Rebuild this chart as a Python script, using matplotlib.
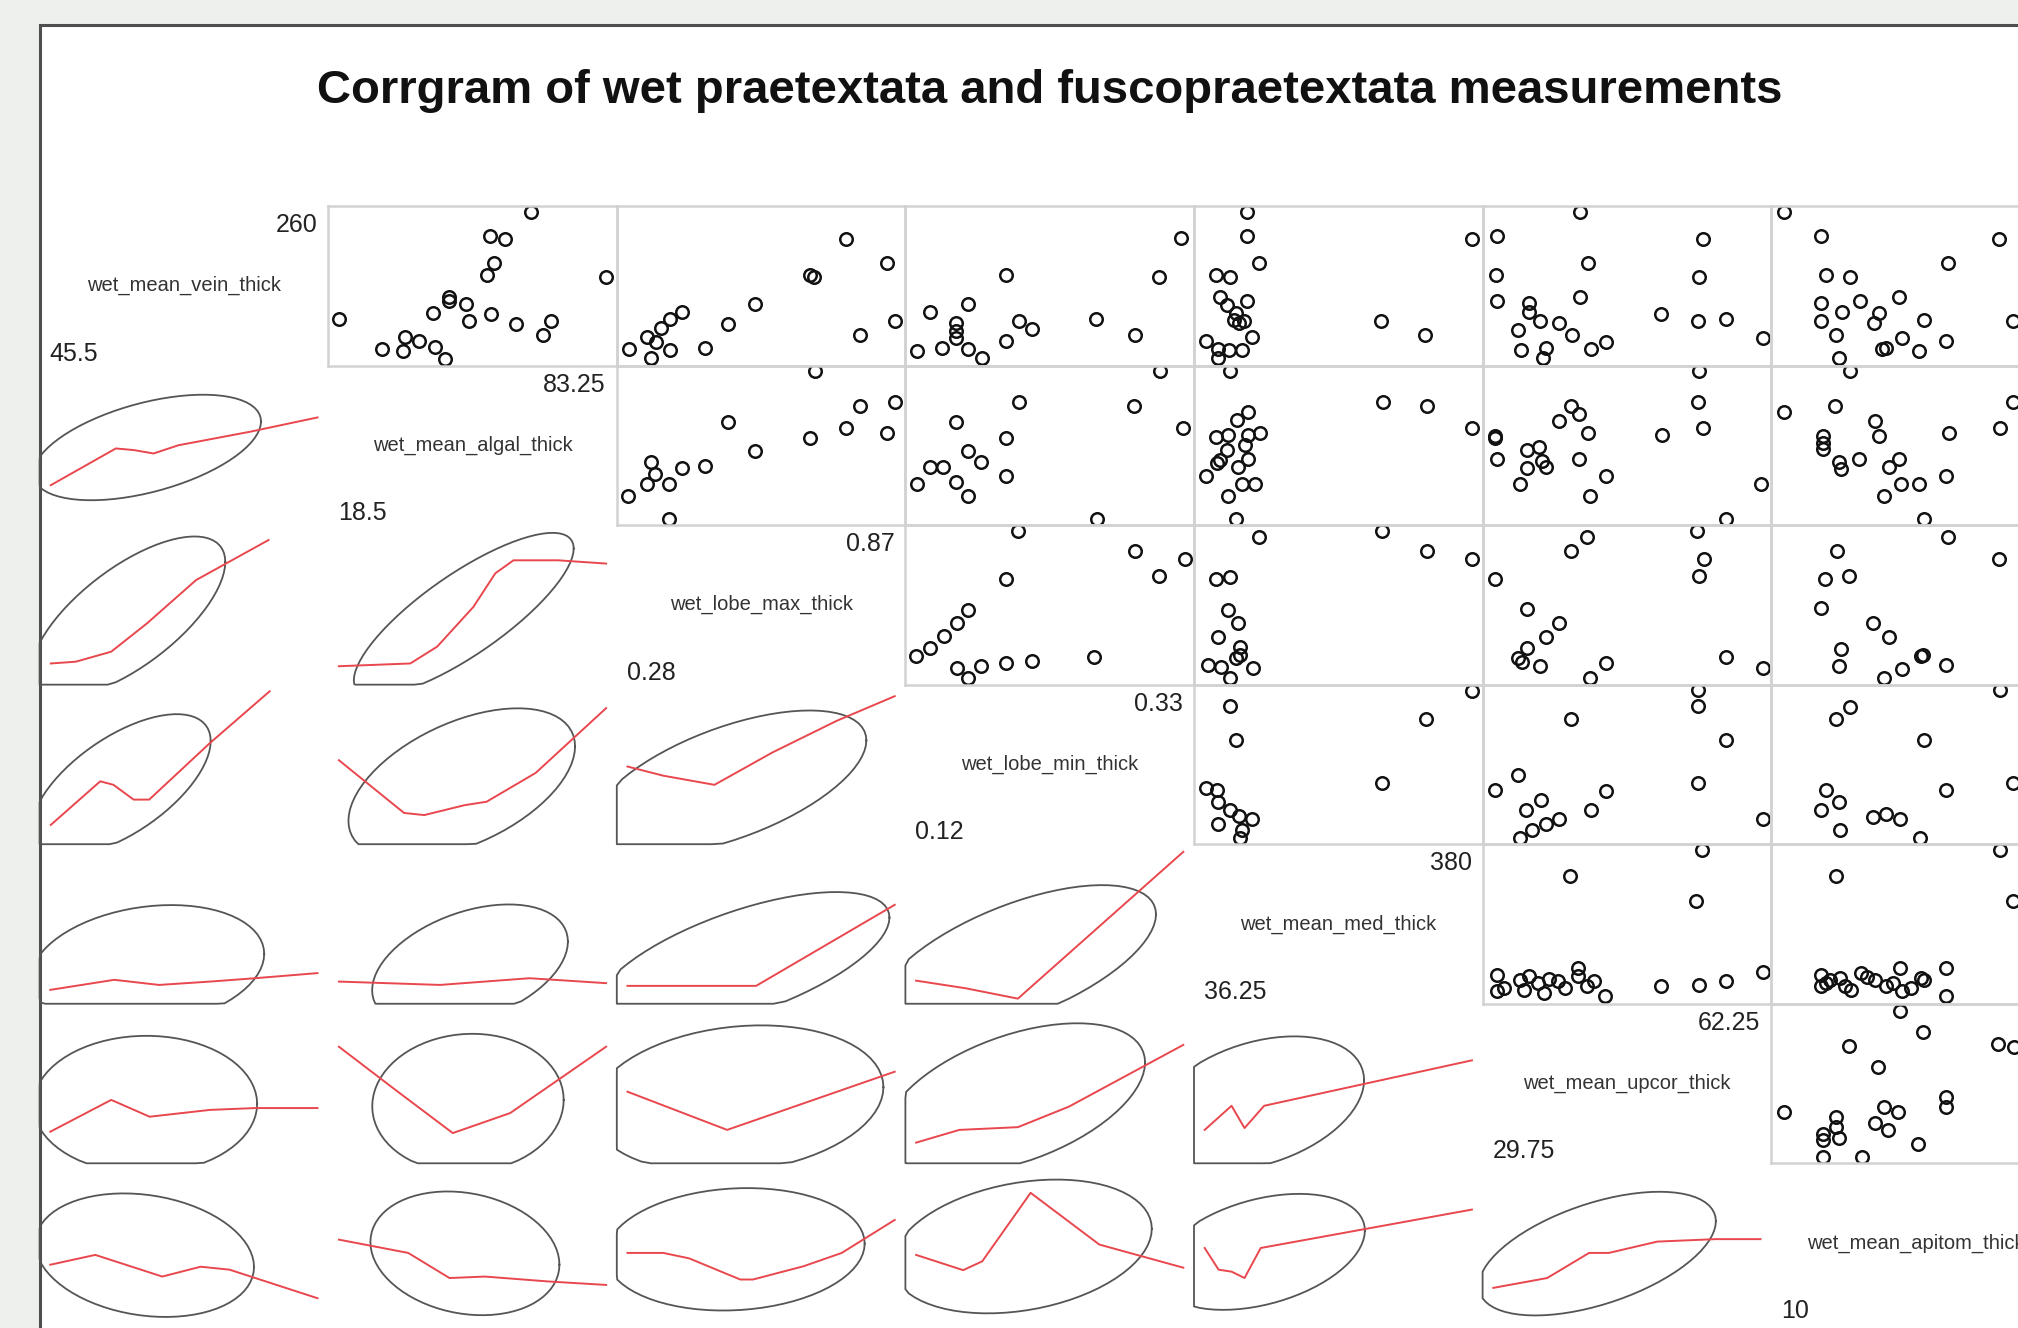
import numpy as np
import matplotlib
matplotlib.use("Agg")
import matplotlib.pyplot as plt
from matplotlib.patches import Rectangle

# ---------------- variables ----------------
var_names = ["wet_mean_vein_thick", "wet_mean_algal_thick", "wet_lobe_max_thick",
             "wet_lobe_min_thick", "wet_mean_med_thick", "wet_mean_upcor_thick",
             "wet_mean_apitom_thick"]
var_min = [45.5, 18.5, 0.28, 0.12, 36.25, 29.75, 10]
var_max = [260, 83.25, 0.87, 0.33, 380, 62.25, 40]
title = "Corrgram of wet praetextata and fuscopraetextata measurements"

# ---------------- upper panels: scatter (x = column variable, y = row variable) ----------------
up12_x = [65.1, 55.1, 58.7, 56.2, 54.5, 83.2, 45.2, 45.2, 49.2, 41.4, 55.3, 50.1, 61.4, 70.0, 68.0, 18.6, 34.5, 37.9, 28.9, 34.1, 41.8, 44.1]
up12_y = [260, 225.5, 220.7, 186.3, 168.3, 166, 137, 130.5, 125.7, 113.6, 111.7, 101.5, 97.2, 102, 81.2, 104.5, 78.8, 72.6, 60.8, 58.4, 63.3, 46.4]
up13_x = [0.762, 0.854, 0.684, 0.692, 0.561, 0.401, 0.374, 0.355, 0.323, 0.343, 0.283, 0.332, 0.373, 0.452, 0.501, 0.793, 0.870]
up13_y = [220.7, 185.4, 168.3, 166, 125.7, 114, 104.5, 90.9, 78.8, 71.5, 60.8, 47.3, 59.4, 62.8, 96.7, 81.2, 101.5]
up14_x = [0.191, 0.311, 0.328, 0.161, 0.131, 0.151, 0.151, 0.151, 0.161, 0.172, 0.140, 0.121, 0.191, 0.201, 0.211, 0.261, 0.292]
up14_y = [168.3, 166, 221.6, 125.7, 114, 98.3, 87.0, 77.4, 60.8, 47.3, 62.8, 58.4, 72.6, 101.5, 89.9, 104.5, 81.2]
up15_x = [90.8, 90.8, 105.7, 51.4, 68.5, 56.3, 65.2, 90.8, 76.9, 73.4, 87.1, 80.2, 97.5, 37.7, 53.0, 67.8, 83.8, 53.0, 262.7, 319.9, 379.6]
up15_y = [260, 225.5, 185.4, 168.3, 165, 137, 124.7, 130.5, 112.7, 102.9, 101.5, 98, 78.8, 72.6, 60.8, 59.4, 59.4, 47.3, 101.5, 81.2, 220.7]
up16_x = [40.3, 30.2, 55.3, 41.3, 30.1, 54.8, 30.2, 40.3, 34.1, 34.1, 35.4, 37.8, 32.8, 39.3, 33.1, 36.1, 35.8, 41.6, 43.5, 50.2, 54.6, 58.0, 62.6]
up16_y = [260, 225.5, 220.7, 185.4, 168.3, 165, 130.5, 137, 127.3, 115.2, 101.5, 98, 88.4, 81.2, 59.4, 61.9, 47.3, 60.8, 71.5, 111.3, 101.5, 104.5, 77.4]
up17_x = [10.2, 14.4, 34.4, 28.7, 15.0, 17.6, 14.4, 14.4, 18.8, 23.1, 16.7, 20.9, 20.3, 26.0, 16.1, 23.5, 21.7, 21.2, 25.4, 28.4, 16.4, 35.9, 40.0, 37.5]
up17_y = [260, 225.5, 220.7, 185.4, 168.3, 165, 127.3, 101.5, 130.5, 137, 114, 112.7, 98, 102.9, 81.2, 77.4, 62.8, 60.8, 58, 72.6, 47.3, 101.5, 110, 90]

up23_x = [0.694, 0.87, 0.794, 0.502, 0.762, 0.852, 0.682, 0.562, 0.452, 0.401, 0.331, 0.341, 0.322, 0.372, 0.281, 0.372]
up23_y = [83.25, 69.9, 68.2, 61.2, 58.5, 56.1, 54.2, 48.5, 41.9, 41.0, 43.7, 38.1, 34.1, 33.9, 28.8, 18.8]
up24_x = [0.312, 0.201, 0.291, 0.330, 0.151, 0.191, 0.161, 0.171, 0.131, 0.141, 0.121, 0.151, 0.161, 0.191, 0.262]
up24_y = [83.25, 69.9, 68.2, 58.5, 61.2, 54.2, 48.5, 43.7, 41.5, 41.5, 33.9, 34.6, 28.8, 37.5, 18.8]
up25_x = [68.9, 91.9, 77.4, 91.9, 66.7, 50.7, 107.9, 88.2, 65.2, 55.9, 52.2, 91.9, 79.7, 37.7, 84.5, 100.5, 66.7, 76.0, 265.3, 321.7, 380]
up25_y = [83.25, 65.3, 61.9, 55.6, 55.3, 54.6, 56.1, 51.0, 48.8, 44.4, 43.0, 45.1, 41.5, 37.5, 34.1, 34.1, 28.8, 18.8, 69.9, 68.2, 58.5]
up26_x = [54.8, 54.6, 55.3, 50.3, 39.2, 40.2, 37.8, 41.3, 30.0, 30.0, 30.2, 33.9, 35.3, 33.9, 35.7, 36.1, 33.0, 40.2, 43.5, 41.5, 62.25, 58.1]
up26_y = [83.25, 69.9, 58.5, 55.3, 68.2, 64.8, 61.5, 56.1, 55.0, 54.2, 44.8, 48.8, 50.2, 41.0, 43.9, 41.5, 34.1, 44.8, 37.5, 28.8, 34.1, 18.8]
up27_x = [17.6, 10.2, 16.0, 20.4, 20.9, 14.6, 14.6, 14.6, 16.4, 16.6, 18.7, 22.0, 23.1, 23.4, 25.4, 21.5, 28.4, 28.8, 34.5, 35.9, 26.0, 40.0, 37.5]
up27_y = [83.25, 65.3, 68.2, 61.5, 55.0, 55.0, 49.2, 52.1, 43.7, 40.7, 44.8, 41.5, 44.8, 34.1, 34.1, 28.8, 37.5, 56.1, 58.5, 69.9, 18.8, 45.0, 40.0]

up34_x = [0.200, 0.292, 0.331, 0.311, 0.191, 0.161, 0.152, 0.142, 0.131, 0.120, 0.152, 0.171, 0.191, 0.211, 0.161, 0.260]
up34_y = [0.87, 0.789, 0.760, 0.691, 0.680, 0.554, 0.501, 0.452, 0.401, 0.372, 0.321, 0.332, 0.341, 0.352, 0.281, 0.368]
up35_x = [106.1, 264.6, 321.7, 380, 51.1, 69.3, 65.6, 78.6, 53.7, 81.2, 81.2, 76.7, 40.0, 56.7, 97.9, 69.3]
up35_y = [0.847, 0.87, 0.789, 0.757, 0.680, 0.687, 0.554, 0.501, 0.448, 0.408, 0.374, 0.361, 0.334, 0.328, 0.321, 0.281]
up36_x = [41.2, 39.2, 54.5, 55.4, 54.8, 29.9, 33.9, 37.8, 36.1, 33.9, 32.8, 33.3, 35.4, 43.5, 41.5, 58.0, 62.6]
up36_y = [0.847, 0.789, 0.87, 0.760, 0.691, 0.678, 0.558, 0.501, 0.448, 0.401, 0.361, 0.348, 0.332, 0.341, 0.281, 0.368, 0.321]
up37_x = [28.7, 16.2, 14.8, 17.5, 34.4, 14.4, 20.2, 22.0, 16.6, 16.4, 25.6, 25.8, 23.5, 21.5, 28.4, 40.0, 37.5]
up37_y = [0.847, 0.789, 0.680, 0.691, 0.757, 0.561, 0.501, 0.448, 0.398, 0.332, 0.372, 0.374, 0.318, 0.281, 0.334, 0.62, 0.50]

up45_x = [380, 321.4, 264.6, 68.5, 76.3, 38.5, 52.2, 53.7, 68.5, 80.0, 83.8, 97.1, 53.7, 82.3]
up45_y = [0.330, 0.289, 0.199, 0.308, 0.260, 0.191, 0.189, 0.172, 0.160, 0.152, 0.132, 0.148, 0.140, 0.120]
up46_x = [32.8, 30.0, 35.5, 33.7, 36.1, 37.8, 34.5, 33.0, 39.2, 43.5, 41.6, 54.6, 54.6, 58.0, 54.6, 62.5]
up46_y = [0.210, 0.188, 0.174, 0.160, 0.141, 0.148, 0.132, 0.121, 0.289, 0.187, 0.160, 0.331, 0.308, 0.260, 0.199, 0.148]
up47_x = [16.1, 17.6, 26.0, 15.0, 16.4, 14.4, 16.5, 20.2, 21.7, 23.3, 25.5, 28.4, 34.5, 35.9, 40.0, 37.5]
up47_y = [0.290, 0.307, 0.260, 0.189, 0.172, 0.160, 0.132, 0.150, 0.155, 0.148, 0.121, 0.188, 0.331, 0.199, 0.25, 0.20]

up56_x = [55.1, 39.1, 54.4, 30.2, 30.2, 33.0, 34.1, 35.2, 35.9, 37.6, 40.1, 40.1, 41.2, 43.3, 50.1, 54.8, 58.0, 62.5, 31.0, 33.5, 36.5, 38.5, 42.0]
up56_y = [380, 318.8, 260.8, 90, 51.1, 78.2, 86, 70.7, 47.4, 74.5, 86, 105.6, 62.9, 39.6, 62.9, 66.7, 74.5, 95.3, 60, 55, 80, 60, 75]
up57_x = [16.1, 34.5, 35.9, 28.4, 28.4, 14.4, 14.4, 15.4, 16.5, 17.1, 18.9, 20.4, 21.7, 23.3, 23.5, 25.6, 25.9, 15.0, 17.8, 19.5, 22.5, 24.5, 40.0, 37.5]
up57_y = [318.8, 380, 260.8, 105.6, 39.6, 90, 62.9, 78.2, 82.3, 62.9, 93.8, 78.2, 62.9, 105.6, 51.1, 82.3, 78.2, 70, 55, 85, 70, 60, 150, 90]

up67_x = [23.3, 25.8, 17.5, 20.8, 34.3, 36.1, 10.2, 16.1, 16.1, 21.5, 23.0, 20.4, 21.9, 28.4, 28.4, 14.6, 14.6, 16.4, 14.6, 19.0, 25.3, 40.0, 37.5]
up67_y = [62.0, 57.4, 54.3, 49.7, 54.8, 54.1, 39.8, 38.7, 36.5, 40.9, 39.8, 37.3, 35.8, 43.1, 40.9, 35.0, 33.6, 34.0, 29.9, 29.9, 32.7, 50.0, 45.0]

# ---------------- lower panels: smoothed (lowess) red lines ----------------
lo21_x = [45.9, 98.1, 112.4, 128.4, 148.3, 205.6, 260]
lo21_y = [33.4, 49.5, 48.8, 47.3, 50.9, 56.8, 63.1]
lo31_x = [45.9, 65.9, 94.4, 123.1, 162.5, 220.7]
lo31_y = [0.341, 0.348, 0.388, 0.501, 0.674, 0.834]
lo41_x = [45.9, 85.6, 96.2, 112.4, 124.9, 173.4, 221.6]
lo41_y = [0.139, 0.201, 0.196, 0.175, 0.175, 0.255, 0.329]
lo51_x = [45.5, 96.9, 132.8, 173.8, 209.8, 260]
lo51_y = [54.8, 78.2, 66.3, 74.1, 81.9, 93.8]
lo61_x = [45.5, 94.4, 125.2, 173.8, 209.8, 260]
lo61_y = [35.4, 42.4, 38.7, 40.2, 40.6, 40.6]
lo71_x = [45.5, 81.6, 135.4, 166.2, 189.4, 260]
lo71_y = [20.6, 22.6, 18.2, 20.2, 19.6, 13.8]
lo32_x = [18.5, 35.8, 42.3, 51.1, 56.4, 60.8, 71.6, 83.25]
lo32_y = [0.330, 0.341, 0.408, 0.567, 0.701, 0.753, 0.753, 0.740]
lo42_x = [18.5, 34.3, 39.2, 48.9, 54.3, 66.2, 83.25]
lo42_y = [0.231, 0.156, 0.153, 0.167, 0.172, 0.213, 0.305]
lo52_x = [18.5, 43.0, 64.7, 83.25]
lo52_y = [74.1, 66.3, 81.9, 70.4]
lo62_x = [18.5, 32.2, 46.1, 60.0, 83.25]
lo62_y = [54.1, 44.6, 35.1, 39.5, 54.1]
lo72_x = [18.5, 35.3, 45.3, 53.9, 69.3, 83.25]
lo72_y = [25.7, 23.0, 17.9, 18.2, 17.2, 16.5]
lo43_x = [0.28, 0.359, 0.472, 0.600, 0.742, 0.87]
lo43_y = [0.222, 0.209, 0.196, 0.242, 0.287, 0.322]
lo53_x = [0.28, 0.564, 0.87]
lo53_y = [64.1, 64.1, 252.7]
lo63_x = [0.28, 0.500, 0.87]
lo63_y = [44.2, 35.8, 48.6]
lo73_x = [0.28, 0.359, 0.416, 0.529, 0.557, 0.669, 0.753, 0.87]
lo73_y = [23.0, 23.0, 21.9, 17.6, 17.6, 20.3, 23.0, 29.7]
lo54_x = [0.12, 0.159, 0.200, 0.33]
lo54_y = [76.3, 58.5, 34.4, 376]
lo64_x = [0.12, 0.154, 0.200, 0.240, 0.33]
lo64_y = [33.0, 35.8, 36.4, 40.9, 54.5]
lo74_x = [0.12, 0.157, 0.172, 0.210, 0.264, 0.33]
lo74_y = [22.6, 19.5, 21.3, 35.2, 24.7, 20.0]
lo65_x = [36.25, 70.8, 87.5, 112.7, 380]
lo65_y = [35.8, 41.1, 36.2, 41.1, 51.1]
lo75_x = [36.25, 54.1, 70.8, 87.5, 108.3, 380]
lo75_y = [24.0, 19.6, 19.2, 17.9, 24.0, 31.8]
lo76_x = [29.75, 36.3, 41.4, 43.8, 49.7, 56.8, 62.25]
lo76_y = [15.9, 17.9, 23.0, 23.0, 25.3, 25.8, 25.8]

upper = {}
lower = {}
g = globals()
for i in range(1, 8):
    for j in range(1, 8):
        if i < j:
            upper[(i, j)] = (g[f"up{i}{j}_x"], g[f"up{i}{j}_y"])
        elif i > j:
            lower[(i, j)] = (g[f"lo{i}{j}_x"], g[f"lo{i}{j}_y"])

# ---------------- layout (pixels) ----------------
W, H = 2018, 1328
plt.rcParams["font.family"] = ["Liberation Sans", "DejaVu Sans"]
fig = plt.figure(figsize=(W / 100, H / 100), dpi=100)
fig.patch.set_facecolor("#eef0ee")

# white page with dark frame (sits under every panel)
page = fig.add_axes([0, 0, 1, 1], zorder=-10)
page.set_xlim(0, W)
page.set_ylim(H, 0)
page.axis("off")
page.add_patch(Rectangle((40, 25), W + 200, H + 200, facecolor="white",
                         edgecolor="#4f4f4f", linewidth=2.2))

fig.text(1049.5 / W, 1 - 103 / H, title, ha="center", va="baseline",
         fontsize=34, fontweight="bold", color="#111111")

CW, RH = 288.6, 159.55
COL0, ROW0 = 39.6, 206.0


def lims(k):
    lo, hi = var_min[k], var_max[k]
    r = hi - lo
    return (lo - 0.04 * r, hi + 0.04 * r)


def fmt(v):
    return ("%g" % v)


for i in range(1, 8):
    for j in range(1, 8):
        left = COL0 + CW * (j - 1)
        top = ROW0 + RH * (i - 1)
        ax = fig.add_axes([left / W, 1 - (top + RH) / H, CW / W, RH / H])
        ax.set_facecolor("none")
        ax.set_xticks([])
        ax.set_yticks([])
        xl, yl = lims(j - 1), lims(i - 1)
        ax.set_xlim(*xl)
        ax.set_ylim(*yl)
        for s in ax.spines.values():
            s.set_visible(False)
        if i == j:
            k = i - 1
            ax.text(0.5, 0.5, var_names[k], transform=ax.transAxes, ha="center", va="center",
                    fontsize=14.5, color="#333333")
            ax.annotate(fmt(var_min[k]), xy=(0, 0), xycoords="axes fraction", xytext=(10, 5),
                        textcoords="offset pixels", ha="left", va="baseline", fontsize=18,
                        color="#222222")
            ax.annotate(fmt(var_max[k]), xy=(1, 1), xycoords="axes fraction", xytext=(-11, -26),
                        textcoords="offset pixels", ha="right", va="baseline", fontsize=18,
                        color="#222222")
        elif i < j:
            x, y = upper[(i, j)]
            ax.plot(x, y, "o", ms=9, mfc="none", mec="#111111", mew=1.8, clip_on=True)
            for s in ax.spines.values():
                s.set_visible(True)
                s.set_color("#d2d2d2")
                s.set_linewidth(1.8)
        else:
            # ellipse from the paired data (same pairs as the mirrored upper panel)
            px, py = upper[(j, i)]
            ex_data = np.asarray(py, float)
            ey_data = np.asarray(px, float)
            n = len(ex_data)
            S = np.cov(np.vstack([ex_data, ey_data]))
            d = n - 1
            q = (d / 2.0) * (0.32 ** (-2.0 / d) - 1.0)
            rad = np.sqrt(2 * q)
            t = np.linspace(0, 2 * np.pi, 75)
            U = np.column_stack([np.cos(t), np.sin(t)])
            R = np.linalg.cholesky(S).T
            P = np.array([ex_data.mean(), ey_data.mean()]) + rad * (U @ R)
            ex = np.clip(P[:, 0], xl[0], xl[1])
            ey = np.clip(P[:, 1], yl[0], yl[1])
            ax.plot(ex, ey, color="#555555", lw=1.3, clip_on=False)
            lx, ly = lower[(i, j)]
            ax.plot(lx, ly, color="#e8474d", lw=1.4)

fig.savefig("out.png", dpi=100, facecolor=fig.get_facecolor())
